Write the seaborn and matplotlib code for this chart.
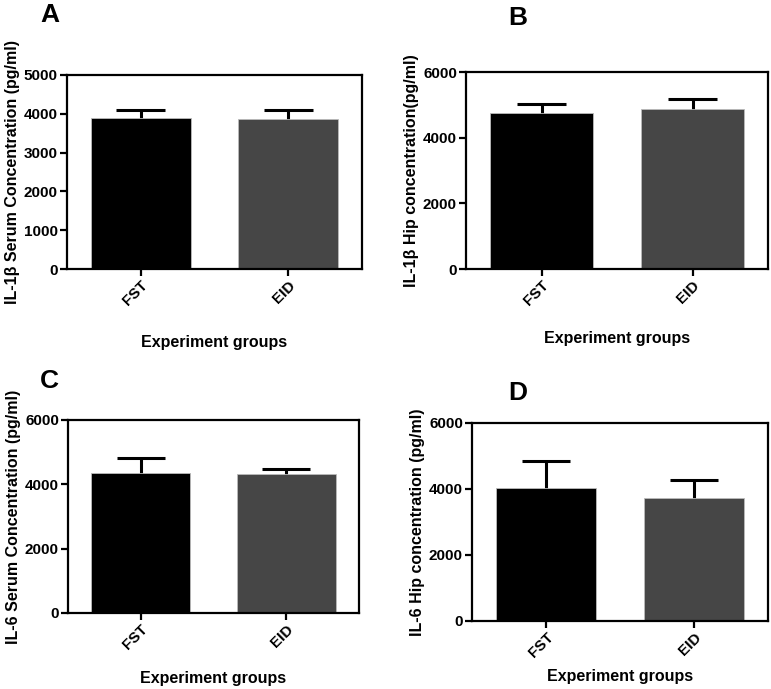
import numpy as np
import seaborn as sns
import matplotlib.pyplot as plt

groups = ["FST", "EID"]
colors = ["#000000", "#464646"]

il1b_serum = [3880, 3870]
il1b_serum_err = [210, 240]
il1b_hip = [4765, 4865]
il1b_hip_err = [250, 305]
il6_serum = [4345, 4335]
il6_serum_err = [465, 135]
il6_hip = [4045, 3715]
il6_hip_err = [810, 545]

panels = [
    ("A", il1b_serum, il1b_serum_err, "IL-1\u03b2 Serum Concentration (pg/ml)", 5000, 1000),
    ("B", il1b_hip, il1b_hip_err, "IL-1\u03b2 Hip concentration(pg/ml)", 6000, 2000),
    ("C", il6_serum, il6_serum_err, "IL-6 Serum Concentration (pg/ml)", 6000, 2000),
    ("D", il6_hip, il6_hip_err, "IL-6 Hip concentration (pg/ml)", 6000, 2000),
]

# axes boxes in pixels: left, right, top, bottom
boxes = [(67, 362, 75, 269), (466, 768, 72, 269), (68, 359, 420, 613), (472, 768, 423, 621)]
letter_pos = [(40, 22), (508, 25), (40, 388), (508, 400)]
xlabel_y = [343, 338, 678, 677]

sns.set_style("white")
plt.rcParams["font.family"] = ["Liberation Sans", "DejaVu Sans"]
plt.rcParams["font.weight"] = "bold"
for k in ["text.color", "axes.labelcolor", "xtick.color", "ytick.color"]:
    plt.rcParams[k] = "black"

W, H = 771, 689
fig = plt.figure(figsize=(W / 100, H / 100), dpi=100)

for (letter, vals, errs, ylabel, ymax, step), (l, r, t, b), (lx, ly), xly in zip(panels, boxes, letter_pos, xlabel_y):
    ax = fig.add_axes([l / W, 1 - b / H, (r - l) / W, (b - t) / H])
    sns.barplot(x=groups, y=vals, hue=groups, palette=colors, width=0.68,
                edgecolor="#bbbbbb", linewidth=0.6, legend=False, ax=ax, zorder=2)
    xs = np.arange(len(groups))
    tops = np.array(vals) + np.array(errs)
    # upper-only error bars (mean + SEM)
    ax.vlines(xs, np.array(vals) - 60, tops, color="black", linewidth=2.2, zorder=1)
    ax.hlines(tops, xs - 0.165, xs + 0.165, color="black", linewidth=2.2, zorder=3)
    ax.set_ylim(0, ymax)
    ax.set_xlim(-0.5, 1.5)
    ax.set_yticks(np.arange(0, ymax + 1, step))
    ax.set_ylabel(ylabel, fontsize=11.5, fontweight="bold", labelpad=3)
    ax.set_xlabel("")
    for s in ax.spines.values():
        s.set_linewidth(1.6)
        s.set_color("black")
    ax.tick_params(axis="both", which="major", direction="out", length=5, width=1.6,
                   labelsize=11, bottom=True, left=True, pad=1.5)
    for lab in ax.get_xticklabels():
        lab.set_rotation(45)
        lab.set_ha("right")
        lab.set_rotation_mode("anchor")
        lab.set_fontweight("bold")
    for lab in ax.get_yticklabels():
        lab.set_fontweight("bold")
    fig.text(((l + r) / 2) / W, 1 - xly / H, "Experiment groups", ha="center", va="center",
             fontsize=11.5, fontweight="bold")
    fig.text(lx / W, 1 - ly / H, letter, ha="left", va="baseline", fontsize=19, fontweight="bold")

fig.savefig("out.png", dpi=100)
